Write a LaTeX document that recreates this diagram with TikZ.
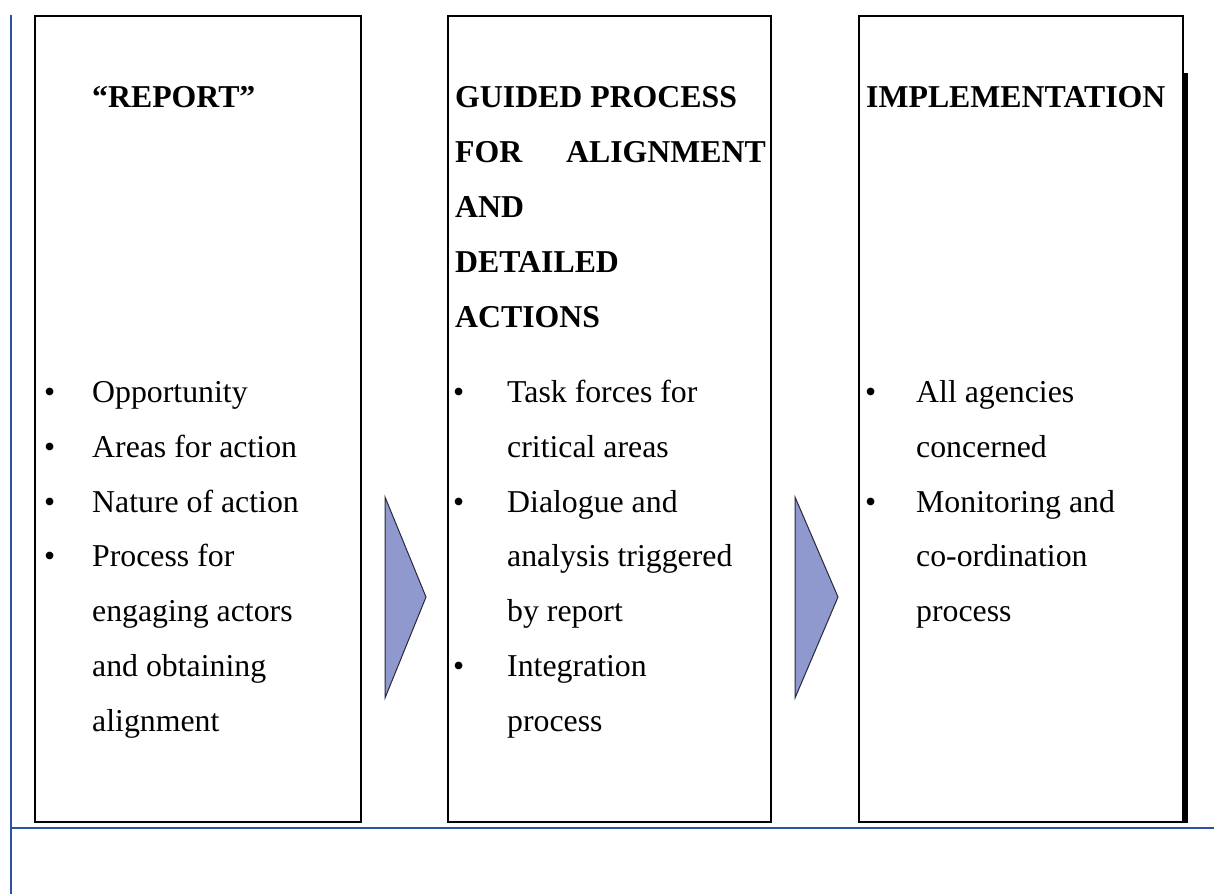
\documentclass[tikz,border=0pt]{standalone}
\usepackage{fontspec}
\setmainfont{Liberation Serif}
\begin{document}
\begin{tikzpicture}[x=1pt,y=-1pt,
  frame/.style={draw=black,line width=2.6pt},
  rule/.style={draw={rgb,255:red,44;green,82;blue,160},line width=2.4pt},
  chevron/.style={fill={rgb,255:red,143;green,153;blue,206},draw={rgb,255:red,40;green,40;blue,60},line width=1pt,line join=miter},
  txt/.style={anchor=base west,inner sep=0pt,font=\fontsize{31.8}{38}\selectfont},
  head/.style={txt,font=\fontsize{31.8}{38}\selectfont\bfseries},
  dot/.style={txt}]
\useasboundingbox (0,0) rectangle (1214,894);
\fill[white] (0,0) rectangle (1214,894);

% page rules
\draw[rule] (11,15) -- (11,894);
\draw[rule] (11,828) -- (1214,828);

% three stage boxes
\draw[frame] (35,16) rectangle (361,822);
\draw[frame] (448,16) rectangle (771,822);
\draw[frame] (859,16) rectangle (1183,822);
\fill[black] (1182,73) rectangle (1188,823);

% arrows between stages
\draw[chevron] (385,497) -- (426,597) -- (385,698) -- cycle;
\draw[chevron] (795,497) -- (838,597) -- (795,698) -- cycle;

% stage 1
\node[head] (h1) at (92,107.5) {“REPORT”};
\foreach \y in {402,457,512,566} \node[dot] at (44,\y) {•};
\node[txt] (a1) at (92,402) {Opportunity};
\node[txt] (a2) at (92,457) {Areas for action};
\node[txt] (a3) at (92,512) {Nature of action};
\node[txt] (a4) at (92,566) {Process for};
\node[txt] (a5) at (92,621) {engaging actors};
\node[txt] (a6) at (92,676) {and obtaining};
\node[txt] (a7) at (92,731) {alignment};

% stage 2
\node[head] (h2a) at (455,107.5) {GUIDED PROCESS};
\node[head] (h2b) at (455,162) {FOR};
\node[head,anchor=base east] (h2c) at (766,162) {ALIGNMENT};
\node[head] (h2d) at (455,217) {AND};
\node[head] (h2e) at (455,272) {DETAILED};
\node[head] (h2f) at (455,327) {ACTIONS};
\foreach \y in {402,512,676} \node[dot] at (453,\y) {•};
\node[txt] (b1) at (507,402) {Task forces for};
\node[txt] (b2) at (507,457) {critical areas};
\node[txt] (b3) at (507,512) {Dialogue and};
\node[txt] (b4) at (507,566) {analysis triggered};
\node[txt] (b5) at (507,621) {by report};
\node[txt] (b6) at (507,676) {Integration};
\node[txt] (b7) at (507,731) {process};

% stage 3
\node[head] (h3) at (866,107.5) {IMPLEMENTATION};
\foreach \y in {402,512} \node[dot] at (865,\y) {•};
\node[txt] (c1) at (916,402) {All agencies};
\node[txt] (c2) at (916,457) {concerned};
\node[txt] (c3) at (916,512) {Monitoring and};
\node[txt] (c4) at (916,566) {co-ordination};
\node[txt] (c5) at (916,621) {process};
\end{tikzpicture}
\end{document}
